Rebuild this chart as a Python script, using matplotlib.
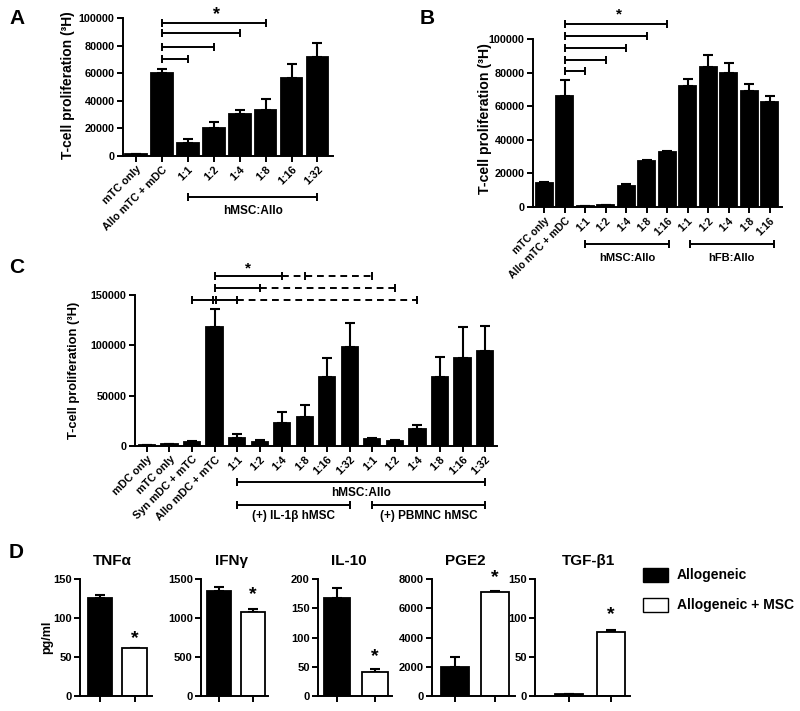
import matplotlib
matplotlib.use('Agg')
import matplotlib.pyplot as plt
import matplotlib.transforms as mtrans
from matplotlib.patches import Rectangle
import numpy as np

plt.rcParams['font.family'] = ['Liberation Sans', 'DejaVu Sans']
plt.rcParams['font.weight'] = 'bold'
plt.rcParams['axes.linewidth'] = 1.4

# ---------------- data ----------------
a_labels = ['mTC only', 'Allo mTC + mDC', '1:1', '1:2', '1:4', '1:8', '1:16', '1:32']
a_values = [1500, 60500, 9500, 20000, 30500, 33500, 56500, 72000]
a_errors = [300, 2500, 2500, 5000, 2500, 7500, 10000, 10000]

b_labels = ['mTC only', 'Allo mTC + mDC', '1:1', '1:2', '1:4', '1:8', '1:16',
            '1:1', '1:2', '1:4', '1:8', '1:16']
b_values = [14500, 66000, 500, 1000, 12500, 27500, 32500, 72000, 83500, 80000, 69000, 62500]
b_errors = [300, 9500, 100, 200, 1000, 500, 1000, 4000, 7000, 5500, 4500, 3500]

c_labels = ['mDC only', 'mTC only', 'Syn mDC + mTC', 'Allo mDC + mTC',
            '1:1', '1:2', '1:4', '1:8', '1:16', '1:32',
            '1:1', '1:2', '1:4', '1:8', '1:16', '1:32']
c_values = [500, 1500, 4000, 118000, 8000, 4000, 22500, 29000, 68500, 98000,
            6500, 4500, 16500, 68500, 87000, 94500]
c_errors = [200, 400, 1000, 18000, 4000, 2000, 11500, 12000, 18500, 24500,
            1000, 1500, 4500, 19500, 31500, 25000]

d_titles = ['TNF\u03b1', 'IFN\u03b3', 'IL-10', 'PGE2', 'TGF-\u03b21']
d_allo = [126, 1350, 168, 2000, 2]
d_allo_err = [4, 50, 17, 700, 1]
d_msc = [61, 1080, 41, 7100, 82]
d_msc_err = [0.5, 40, 6, 50, 3]
d_ymax = [150, 1500, 200, 8000, 150]
d_yticks = [[0, 50, 100, 150], [0, 500, 1000, 1500], [0, 50, 100, 150, 200],
            [0, 2000, 4000, 6000, 8000], [0, 50, 100, 150]]
d_star = [74, 1295, 68, 8070, 104]
legend_labels = ['Allogeneic', 'Allogeneic + MSC']

# ---------------- helpers ----------------
W, H = 800, 711
fig = plt.figure(figsize=(8, 7.11), dpi=100)


def add_ax(l, t, r, b, fs=7.8):
    ax = fig.add_axes([l / W, 1 - b / H, (r - l) / W, (b - t) / H])
    for s in ['top', 'right']:
        ax.spines[s].set_visible(False)
    ax.tick_params(direction='out', width=1.4, length=4, labelsize=fs, pad=2)
    return ax


def bars(ax, x, vals, errs, width, color='black'):
    ax.bar(x, vals, width, color=color, edgecolor='black', linewidth=1.3, zorder=2)
    ax.errorbar(x, vals, yerr=[np.zeros(len(vals)), errs], fmt='none', ecolor='black',
                elinewidth=1.5, capsize=3.5, capthick=1.5, zorder=1)


def seg(ax, x0, x1, y, ls='-', trans=None):
    kw = {} if trans is None else {'transform': trans}
    ax.plot([x0, x1], [y, y], color='black', lw=1.4, ls=ls, clip_on=False,
            solid_capstyle='butt', **kw)


def tick(ax, x, y, trans=None, ms=6):
    kw = {} if trans is None else {'transform': trans}
    ax.plot([x], [y], marker='|', ms=ms, mew=1.4, color='black', clip_on=False, **kw)


def bracket(ax, x0, x1, y, trans=None):
    seg(ax, x0, x1, y, trans=trans)
    tick(ax, x0, y, trans)
    tick(ax, x1, y, trans)


def set_cats(ax, labels, fs=7.8):
    ax.set_xticks(np.arange(len(labels)))
    ax.set_xticklabels(labels, rotation=45, ha='right', va='top', rotation_mode='anchor',
                       fontsize=fs)


# ---------------- panel A ----------------
axA = add_ax(123, 18, 333, 156)
xa = np.arange(len(a_values))
bars(axA, xa, a_values, a_errors, 0.84)
axA.set_xlim(-0.5, 7.6)
axA.set_ylim(0, 100000)
axA.set_yticks(range(0, 100001, 20000))
set_cats(axA, a_labels)
for xe, yb in zip([2, 3, 4, 5], [70300, 79000, 89000, 96400]):
    bracket(axA, 1, xe, yb)
axA.text(3.1, 102500, '*', ha='center', va='center', fontsize=13)
ta = mtrans.blended_transform_factory(axA.transData, axA.transAxes)
bracket(axA, 2, 7, -0.297, trans=ta)
axA.text(4.5, -0.40, 'hMSC:Allo', transform=ta, ha='center', va='center', fontsize=8.5)
fig.text(68 / W, 1 - 85 / H, 'T-cell proliferation (\u00b3H)', rotation=90,
         ha='center', va='center', fontsize=10)
fig.text(17 / W, 1 - 19 / H, 'A', ha='center', va='center', fontsize=15)

# ---------------- panel B ----------------
axB = add_ax(533, 39, 782, 207)
xb = np.arange(len(b_values))
bars(axB, xb, b_values, b_errors, 0.83)
axB.set_xlim(-0.54, 11.6)
axB.set_ylim(0, 100000)
axB.set_yticks(range(0, 100001, 20000))
set_cats(axB, b_labels, fs=7.5)
for xe, yb in zip([2, 3, 4, 5, 6], [80950, 87500, 94600, 101800, 108900]):
    bracket(axB, 1, xe, yb)
axB.text(3.66, 114500, '*', ha='center', va='center', fontsize=11)
tb = mtrans.blended_transform_factory(axB.transData, axB.transAxes)
bracket(axB, 2, 6.1, -0.22, trans=tb)
bracket(axB, 7.1, 11.2, -0.22, trans=tb)
axB.text(4.05, -0.305, 'hMSC:Allo', transform=tb, ha='center', va='center', fontsize=8)
axB.text(9.15, -0.305, 'hFB:Allo', transform=tb, ha='center', va='center', fontsize=8)
fig.text(485 / W, 1 - 119 / H, 'T-cell proliferation (\u00b3H)', rotation=90,
         ha='center', va='center', fontsize=10.2)
fig.text(427 / W, 1 - 18 / H, 'B', ha='center', va='center', fontsize=15)

# ---------------- panel C ----------------
axC = add_ax(135, 295, 497, 446)
xc = np.arange(len(c_values))
bars(axC, xc, c_values, c_errors, 0.72)
axC.set_xlim(-0.53, 15.53)
axC.set_ylim(0, 150000)
axC.set_yticks([0, 50000, 100000, 150000])
set_cats(axC, c_labels)
dash = (0, (3.5, 2.5))
# row 1
y1 = 168900
seg(axC, 3, 6, y1)
seg(axC, 6, 10, y1, ls=dash)
for xt in [3, 6, 7, 10]:
    tick(axC, xt, y1)
# row 2
y2 = 157000
seg(axC, 3, 5, y2)
seg(axC, 5, 11, y2, ls=dash)
for xt in [3, 5, 11]:
    tick(axC, xt, y2)
# row 3
y3 = 145500
seg(axC, 2, 4, y3)
seg(axC, 4, 12, y3, ls=dash)
for xt in [2, 2.93, 3.07, 4, 12]:
    tick(axC, xt, y3)
axC.text(4.5, 176000, '*', ha='center', va='center', fontsize=11)
tc = mtrans.blended_transform_factory(axC.transData, axC.transAxes)
bracket(axC, 4, 15, -0.238, trans=tc)
axC.text(9.5, -0.31, 'hMSC:Allo', transform=tc, ha='center', va='center', fontsize=8.5)
bracket(axC, 4, 9, -0.391, trans=tc)
bracket(axC, 10, 15, -0.391, trans=tc)
axC.text(6.5, -0.465, '(+) IL-1\u03b2 hMSC', transform=tc, ha='center', va='center', fontsize=8.5)
axC.text(12.5, -0.465, '(+) PBMNC hMSC', transform=tc, ha='center', va='center', fontsize=8.5)
fig.text(74 / W, 1 - 370 / H, 'T-cell proliferation (\u00b3H)', rotation=90,
         ha='center', va='center', fontsize=9.3)
fig.text(17 / W, 1 - 267 / H, 'C', ha='center', va='center', fontsize=15)

# ---------------- panel D ----------------
d_boxes = [(80, 152, -0.57, 1.49, 0.71), (201, 268, -0.53, 1.44, 0.70),
           (318, 392, -0.50, 1.45, 0.70), (432, 515, -0.58, 1.50, 0.70),
           (535, 630, -0.81, 1.45, 0.67)]
d_title_x = [112, 232, 349, 465, 589]
for i in range(5):
    l, r, x0, x1, w = d_boxes[i]
    ax = add_ax(l, 579, r, 696, fs=8)
    bars(ax, [0], [d_allo[i]], [d_allo_err[i]], w, color='black')
    bars(ax, [1], [d_msc[i]], [d_msc_err[i]], w, color='white')
    ax.set_xlim(x0, x1)
    ax.set_ylim(0, d_ymax[i])
    ax.set_yticks(d_yticks[i])
    ax.set_xticks([0, 1])
    ax.set_xticklabels(['', ''])
    ax.text(1, d_star[i], '*', ha='center', va='center', fontsize=14, clip_on=False)
    fig.text(d_title_x[i] / W, 1 - 561 / H, d_titles[i], ha='center', va='center',
             fontsize=11)
fig.text(47 / W, 1 - 637 / H, 'pg/ml', rotation=90, ha='center', va='center', fontsize=9)
fig.text(16 / W, 1 - 552 / H, 'D', ha='center', va='center', fontsize=15)

# legend
fig.add_artist(Rectangle((643 / W, 1 - 582 / H), 25 / W, 14 / H, facecolor='black',
                         edgecolor='black', lw=1, transform=fig.transFigure))
fig.add_artist(Rectangle((643 / W, 1 - 612 / H), 25 / W, 14 / H, facecolor='white',
                         edgecolor='black', lw=1, transform=fig.transFigure))
fig.text(677 / W, 1 - 575 / H, legend_labels[0], ha='left', va='center', fontsize=10)
fig.text(677 / W, 1 - 605 / H, legend_labels[1], ha='left', va='center', fontsize=10)

fig.savefig('out.png', dpi=100)
